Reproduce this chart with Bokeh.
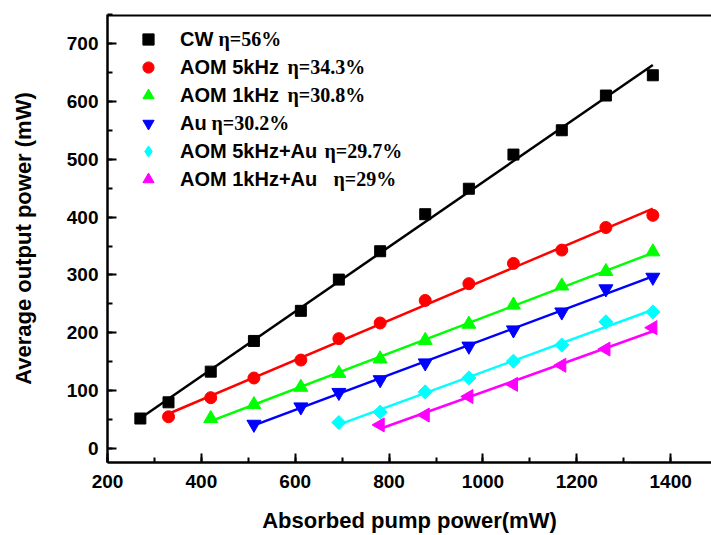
import numpy as np
from bokeh.plotting import figure
from bokeh.models import (Range1d, SingleIntervalTicker, LinearAxis, Legend, LegendItem, Label, Span)
from bokeh.embed import file_html
from bokeh.resources import INLINE

# ---- data ----
cw_x = [270, 330, 420, 512, 612, 693, 781, 877, 970, 1065, 1168, 1262, 1362]
cw_y = [52, 80, 133, 186, 238, 292, 341, 405, 449, 508, 550, 610, 645]

aom5_x = [330, 420, 512, 612, 693, 781, 877, 970, 1065, 1168, 1262, 1362]
aom5_y = [55, 88, 122, 153, 190, 217, 256, 285, 320, 343, 382, 403]

aom1_x = [420, 512, 612, 693, 781, 877, 970, 1065, 1168, 1262, 1362]
aom1_y = [52, 76, 106, 130, 155, 187, 215, 248, 281, 306, 340]

au_x = [512, 612, 693, 781, 877, 970, 1065, 1168, 1262, 1362]
au_y = [42, 72, 97, 119, 148, 177, 205, 236, 276, 296]

aom5au_x = [693, 781, 877, 970, 1065, 1168, 1262, 1362]
aom5au_y = [45, 63, 98, 122, 151, 179, 219, 236]

aom1au_x = [781, 877, 970, 1065, 1168, 1262, 1362]
aom1au_y = [41, 58, 90, 111, 144, 172, 209]

names = ["CW", "AOM 5kHz", "AOM 1kHz", "Au", "AOM 5kHz+Au", "AOM 1kHz+Au"]
etas = ["\u03b7=56%", "\u03b7=34.3%", "\u03b7=30.8%", "\u03b7=30.2%", "\u03b7=29.7%", "\u03b7=29%"]
x_title = "Absorbed pump power(mW)"
y_title = "Average output power (mW)"

# (x, y, colour, marker, angle, size, legend marker)
series = [
    (cw_x, cw_y, "black", "square", 0.0, 11, "square"),
    (aom5_x, aom5_y, "#ff0000", "circle", 0.0, 12, "circle"),
    (aom1_x, aom1_y, "#00ff00", "triangle", 0.0, 14, "triangle"),
    (au_x, au_y, "#0000ff", "inverted_triangle", 0.0, 14, "inverted_triangle"),
    (aom5au_x, aom5au_y, "#00ffff", "square", np.pi / 4, 10, "diamond"),
    (aom1au_x, aom1au_y, "#ff00ff", "triangle", np.pi / 2, 14, "triangle"),
]

FRAME_L, FRAME_B = 107, 463
Y_TOP = 750

p = figure(width=711, height=535, output_backend="svg", toolbar_location=None,
           x_range=Range1d(200, 1487), y_range=Range1d(-24, Y_TOP),
           min_border_left=107, min_border_right=0, min_border_top=14, min_border_bottom=72,
           x_axis_location=None, y_axis_location=None)
p.outline_line_color = None
p.xgrid.visible = False
p.ygrid.visible = False
p.background_fill_color = "white"
p.border_fill_color = "white"

def style_axis(ax):
    ax.axis_line_width = 2.5
    ax.axis_line_color = "black"
    ax.major_tick_in = 9
    ax.major_tick_out = 0
    ax.minor_tick_in = 5
    ax.minor_tick_out = 0
    ax.major_tick_line_width = 2
    ax.minor_tick_line_width = 2
    ax.major_label_text_font = "Liberation Sans"
    ax.major_label_text_font_style = "bold"
    ax.major_label_text_font_size = "19px"
    ax.major_label_text_color = "black"
    ax.axis_label_text_font = "Liberation Sans"
    ax.axis_label_text_font_style = "bold"
    ax.axis_label_text_font_size = "22px"
    ax.axis_label_text_color = "black"

xax = LinearAxis(ticker=SingleIntervalTicker(interval=200, num_minor_ticks=2), axis_label=x_title)
style_axis(xax)
xax.major_label_standoff = 12
xax.axis_label_standoff = 17
p.add_layout(xax, "below")

yax = LinearAxis(ticker=SingleIntervalTicker(interval=100, num_minor_ticks=2), axis_label=y_title)
style_axis(yax)
yax.major_label_standoff = 9
yax.axis_label_standoff = 28
p.add_layout(yax, "left")

# top border of the frame
p.add_layout(Span(location=Y_TOP - 1, dimension="width", line_color="black", line_width=3))

items = []
for (xs, ys, col, mk, ang, sz, lmk), nm in zip(series, names):
    xs_a = np.array(xs, dtype=float)
    k, b = np.polyfit(xs_a, np.array(ys, dtype=float), 1)
    lx = [xs_a[0], xs_a[-1]]
    p.line(lx, [k * v + b for v in lx], line_color=col, line_width=2.5)
    p.scatter(xs, ys, marker=mk, size=sz, angle=ang, fill_color=col, line_color=col)
    # legend-only renderer (a single undrawn NaN point) carrying the legend symbol
    lr = p.scatter(x=[np.nan], y=[np.nan], marker=lmk, size=sz, fill_color=col, line_color=col)
    items.append(LegendItem(label=nm, renderers=[lr]))

leg = Legend(items=items, location=(27, 269), orientation="vertical",
             padding=0, spacing=0, glyph_width=28, glyph_height=28, label_height=28,
             label_standoff=18, border_line_color=None, background_fill_alpha=0,
             label_text_font="Liberation Sans", label_text_font_style="bold",
             label_text_font_size="20px", label_text_color="black")
p.add_layout(leg, "center")

eta_x = [218, 287, 287, 211, 324, 333]
row_y = [39, 67, 95, 123, 151, 179]
for ex, ry, t in zip(eta_x, row_y, etas):
    p.add_layout(Label(x=ex - FRAME_L, y=FRAME_B - ry, x_units="screen", y_units="screen", text=t,
                       text_font="Liberation Serif", text_font_style="bold",
                       text_font_size="20px", text_color="black", text_baseline="middle"))

open("out.html", "w").write(file_html(p, INLINE))
